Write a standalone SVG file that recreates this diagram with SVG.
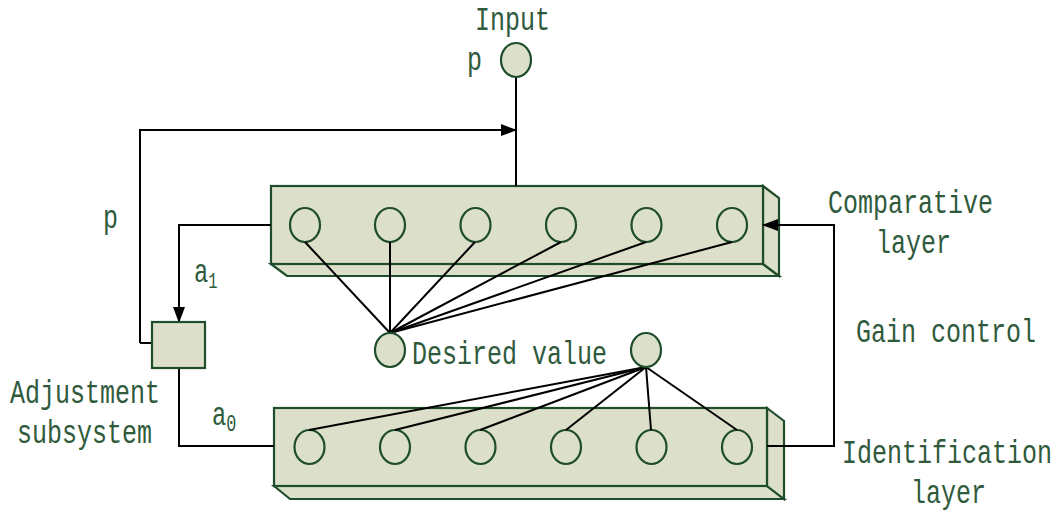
<svg xmlns="http://www.w3.org/2000/svg" width="1057" height="512" viewBox="0 0 1057 512">
<defs>
<marker id="ah" markerWidth="16" markerHeight="12" refX="15" refY="6" orient="auto" markerUnits="userSpaceOnUse">
<path d="M0,0 L16,6 L0,12 Z" fill="#000"/>
</marker>
<style>
.box{fill:#dce0ca;stroke:#1f4d2c;stroke-width:2.2;stroke-linejoin:miter}
.node{fill:#dce0ca;stroke:#1f4d2c;stroke-width:2.2}
.cell{fill:none;stroke:#1f4d2c;stroke-width:2.2}
.ln{fill:none;stroke:#000;stroke-width:2}
.t{font-family:"Liberation Mono",monospace;font-size:34px;fill:#2f5a3c}
</style>
</defs>
<rect width="1057" height="512" fill="#fff"/>

<g id="comparative-layer">
<polygon class="box" points="271,264 287,276 779,276 763,264"/>
<polygon class="box" points="763,186 779,198 779,276 763,264"/>
<rect class="box" x="271" y="186" width="492" height="78"/>
<ellipse class="cell" cx="305" cy="225" rx="15" ry="17"/>
<ellipse class="cell" cx="390" cy="225" rx="15" ry="17"/>
<ellipse class="cell" cx="475.5" cy="225" rx="15" ry="17"/>
<ellipse class="cell" cx="561" cy="225" rx="15" ry="17"/>
<ellipse class="cell" cx="646.5" cy="225" rx="15" ry="17"/>
<ellipse class="cell" cx="732" cy="225" rx="15" ry="17"/>
</g>

<g id="identification-layer">
<polygon class="box" points="274,486 290,499 784,499 767,486"/>
<polygon class="box" points="767,408 784,421 784,499 767,486"/>
<rect class="box" x="274" y="408" width="493" height="78"/>
<ellipse class="cell" cx="309.5" cy="447" rx="15" ry="17"/>
<ellipse class="cell" cx="395" cy="447" rx="15" ry="17"/>
<ellipse class="cell" cx="480.5" cy="447" rx="15" ry="17"/>
<ellipse class="cell" cx="566" cy="447" rx="15" ry="17"/>
<ellipse class="cell" cx="651.5" cy="447" rx="15" ry="17"/>
<ellipse class="cell" cx="737" cy="447" rx="15" ry="17"/>
</g>

<g id="connectors">
<line class="ln" x1="516" y1="77" x2="516" y2="186"/>
<polyline class="ln" points="140,343 140,130 516,130" marker-end="url(#ah)"/>
<polyline class="ln" points="271,225 179,225 179,322" marker-end="url(#ah)"/>
<line class="ln" x1="140" y1="343" x2="152" y2="343"/>
<polyline class="ln" points="179,368 179,446 274,446"/>
<polyline class="ln" points="767,446 834,446 834,225 763,225" marker-end="url(#ah)"/>
<g class="ln">
<line x1="305" y1="242" x2="390" y2="333"/>
<line x1="390" y1="242" x2="390" y2="333"/>
<line x1="475" y1="242" x2="390" y2="333"/>
<line x1="561" y1="242" x2="390" y2="333"/>
<line x1="646" y1="242" x2="390" y2="333"/>
<line x1="732" y1="242" x2="390" y2="333"/>
<line x1="646" y1="367" x2="309" y2="430"/>
<line x1="646" y1="367" x2="395" y2="430"/>
<line x1="646" y1="367" x2="480" y2="430"/>
<line x1="646" y1="367" x2="566" y2="430"/>
<line x1="646" y1="367" x2="651" y2="430"/>
<line x1="646" y1="367" x2="737" y2="430"/>
</g>
</g>

<g id="input-node">
<ellipse class="node" cx="516" cy="60" rx="15" ry="17"/>
</g>
<g id="desired-node">
<ellipse class="node" cx="390" cy="350" rx="15" ry="17"/>
</g>
<g id="gain-node">
<ellipse class="node" cx="646" cy="350" rx="15" ry="17"/>
</g>
<g id="adjustment-subsystem">
<rect class="box" x="152" y="322" width="53" height="46"/>
</g>

<g id="labels">
<text class="t" transform="translate(475,30) scale(0.7353,1)">Input</text>
<text class="t" transform="translate(467,70) scale(0.7353,1)">p</text>
<text class="t" transform="translate(103,228) scale(0.7353,1)">p</text>
<text class="t" transform="translate(194,282) scale(0.7,1)">a<tspan font-size="22" dy="6">1</tspan></text>
<text class="t" transform="translate(212,425) scale(0.7,1)">a<tspan font-size="24" dy="6">0</tspan></text>
<text class="t" transform="translate(10,403) scale(0.7353,1)">Adjustment</text>
<text class="t" transform="translate(17,443) scale(0.7353,1)">subsystem</text>
<text class="t" transform="translate(412,364) scale(0.7353,1)">Desired value</text>
<text class="t" transform="translate(828,213) scale(0.7353,1)">Comparative</text>
<text class="t" transform="translate(876,253) scale(0.7353,1)">layer</text>
<text class="t" transform="translate(856,342) scale(0.7353,1)">Gain control</text>
<text class="t" transform="translate(842,463) scale(0.7353,1)">Identification</text>
<text class="t" transform="translate(911,503) scale(0.7353,1)">layer</text>
</g>
</svg>
